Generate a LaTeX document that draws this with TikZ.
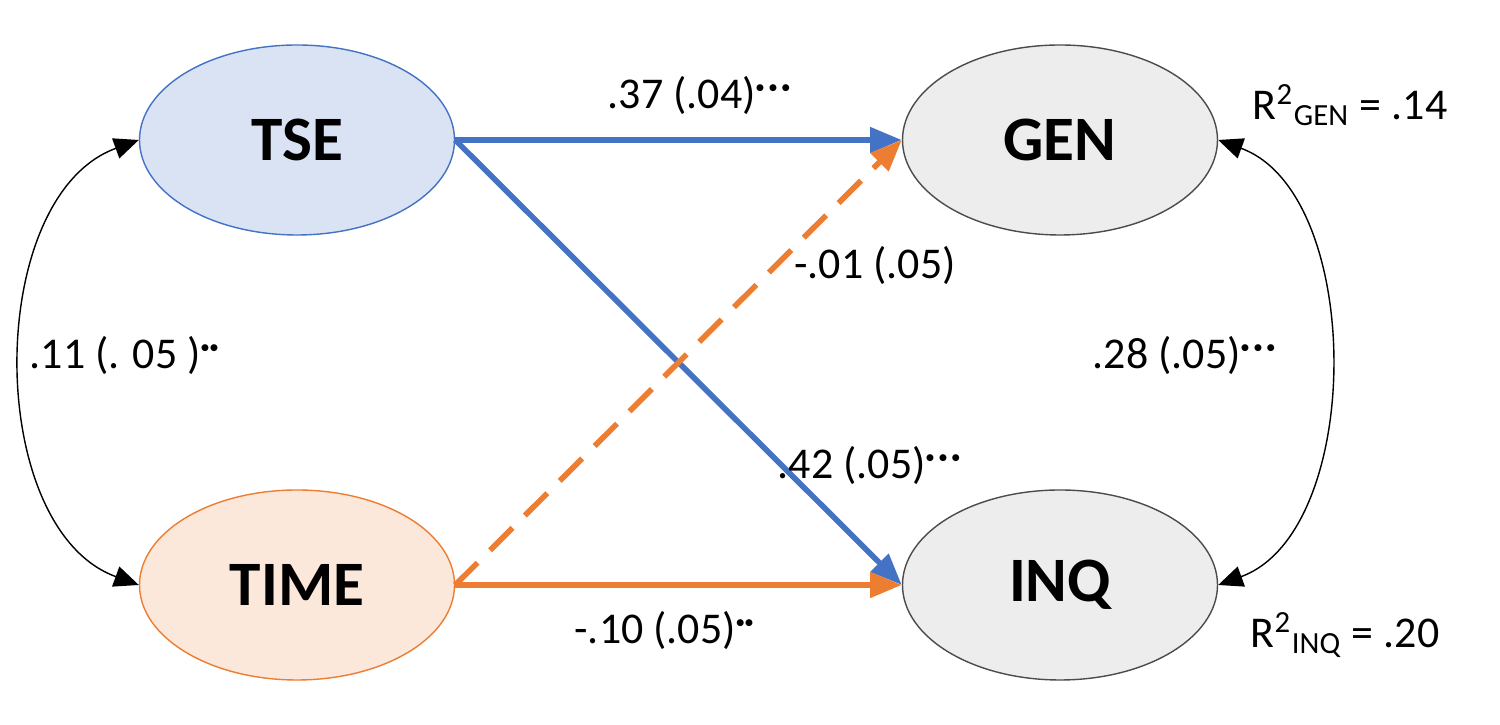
\documentclass[tikz,border=0pt]{standalone}
\usepackage{fontspec}
\setmainfont{Carlito}
\usetikzlibrary{arrows.meta,shapes.geometric}
\definecolor{pathblue}{RGB}{68,114,196}
\definecolor{pathorange}{RGB}{237,125,49}
\newcommand{\sigdots}[1]{\textsuperscript{\scalebox{0.55}{$\foreach \k in {1,...,#1}{\bullet}$}}}
\begin{document}
\begin{tikzpicture}[
	latent/.style={draw,ellipse,minimum width=3.15cm,minimum height=1.9cm,font=\fontsize{18}{20}\selectfont\bfseries},
	coef/.style={font=\fontsize{12.5}{14}\selectfont},
	path/.style={-{Triangle[length=9pt,width=7pt]},line width=1.6pt}]
	\useasboundingbox (0,0) rectangle (15,7.25);
	\node[latent,draw=pathblue,fill=pathblue!20] (TSE) at (2.97,5.85) {TSE};
	\node[latent,draw=pathorange,fill=pathorange!18] (TIME) at (2.97,1.4) {TIME};
	\node[latent,draw=black!70,fill=black!7] (GEN) at (10.6,5.85) {GEN};
	\node[latent,draw=black!70,fill=black!7] (INQ) at (10.6,1.4) {INQ};
	\draw[path,pathblue] (TSE.east) -- (GEN.west);
	\draw[path,pathblue] (TSE.east) -- (INQ.west);
	\draw[path,pathorange] (TIME.east) -- (INQ.west);
	\draw[path,pathorange,dash pattern=on 9pt off 5pt] (TIME.east) -- (GEN.west);
	\draw[{Triangle[length=7pt,width=6pt]}-{Triangle[length=7pt,width=6pt]}] (TSE.west) to[out=200,in=160,looseness=0.95] (TIME.west);
	\draw[{Triangle[length=7pt,width=6pt]}-{Triangle[length=7pt,width=6pt]}] (GEN.east) to[out=-20,in=20,looseness=0.9] (INQ.east);
	\node[coef] (c1) at (7.0,6.3) {.37 (.04)\sigdots{3}};
	\node[coef] (c2) at (8.75,4.6) {-.01 (.05)};
	\node[coef] (c3) at (8.7,2.6) {.42 (.05)\sigdots{3}};
	\node[coef] (c4) at (6.65,0.95) {-.10 (.05)\sigdots{2}};
	\node[coef] (c5) at (1.25,3.7) {.11 (. 05 )\sigdots{2}};
	\node[coef] (c6) at (11.85,3.7) {.28 (.05)\sigdots{3}};
	\node[coef] (r1) at (13.5,6.2) {R\textsuperscript{2}\textsubscript{GEN} = .14};
	\node[coef] (r2) at (13.45,0.9) {R\textsuperscript{2}\textsubscript{INQ} = .20};
\end{tikzpicture}
\end{document}
